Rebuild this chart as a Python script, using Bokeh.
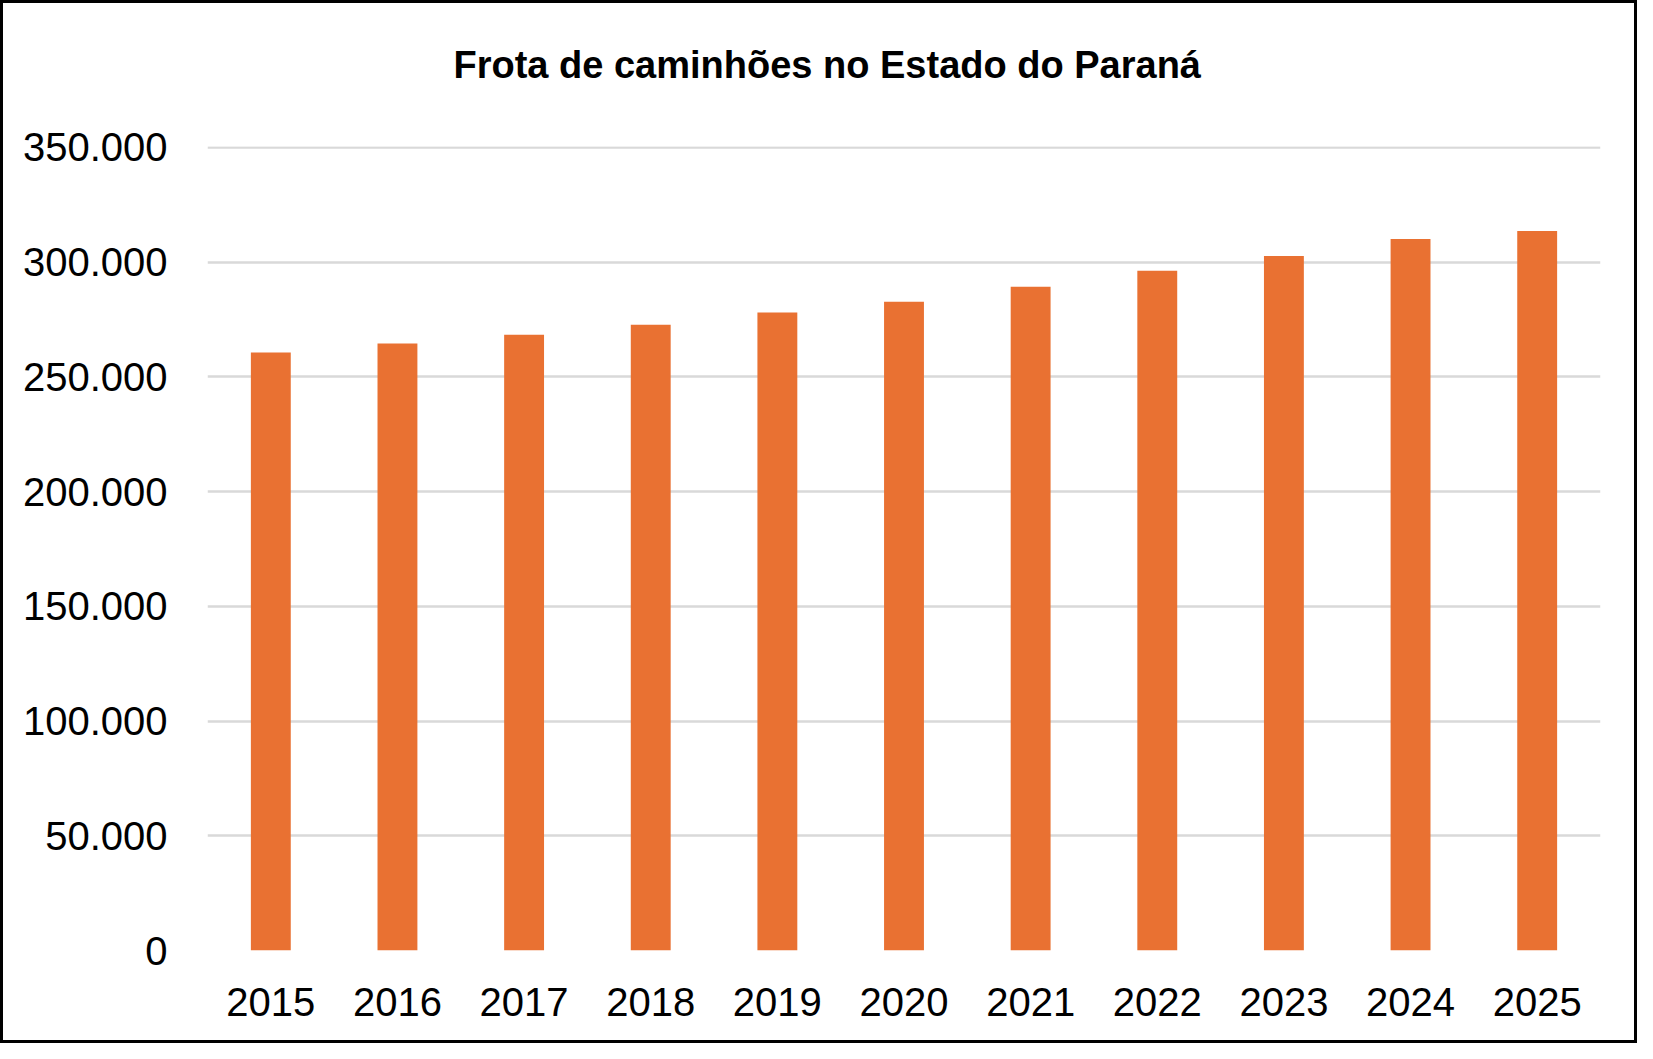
from bokeh.plotting import figure
from bokeh.models import Range1d, FixedTicker, CustomJSTickFormatter, Title
from bokeh.embed import file_html
from bokeh.resources import INLINE

years = ["2015", "2016", "2017", "2018", "2019", "2020", "2021", "2022", "2023", "2024", "2025"]
frota = [260600, 264500, 268400, 272700, 278000, 282700, 289300, 296200, 302700, 310100, 313600]
y_ticks = [0, 50000, 100000, 150000, 200000, 250000, 300000, 350000]
title_text = "Frota de caminhões no Estado do Paraná"

FONT = "Liberation Sans"

p = figure(x_range=years, y_range=Range1d(0, 350400), width=1637, height=1043,
           output_backend="svg", toolbar_location=None, title=None,
           min_border_left=204, min_border_right=40, min_border_top=143, min_border_bottom=96)
p.styles = {"border": "3px solid black"}
p.outline_line_color = None
p.background_fill_color = "white"
p.border_fill_color = "white"

p.vbar(x=years, top=frota, width=0.315, fill_color="#E97132", line_color=None)

p.yaxis.ticker = FixedTicker(ticks=y_ticks)
p.yaxis.formatter = CustomJSTickFormatter(code="""
    return String(Math.round(tick)).replace(/\\B(?=(\\d{3})+(?!\\d))/g, ".");
""")
for ax in (p.xaxis, p.yaxis):
    ax.axis_line_color = None
    ax.major_tick_line_color = None
    ax.minor_tick_line_color = None
    ax.major_label_text_font = FONT
    ax.major_label_text_font_size = "40px"
    ax.major_label_text_color = "black"
p.yaxis.major_label_standoff = 34
p.xaxis.major_label_standoff = 31

p.xgrid.grid_line_color = None
p.ygrid.grid_line_color = "#D9D9D9"
p.ygrid.grid_line_width = 2.7
p.ygrid.ticker = FixedTicker(ticks=y_ticks)

spacer = Title(text=" ", text_font_size="1px", standoff=58)
p.add_layout(spacer, "above")
main_title = Title(text=title_text, align="left", offset=246, text_font=FONT,
                   text_font_style="bold", text_font_size="38px", text_color="black", standoff=0)
p.add_layout(main_title, "above")

open("out.html", "w").write(file_html(p, INLINE))
